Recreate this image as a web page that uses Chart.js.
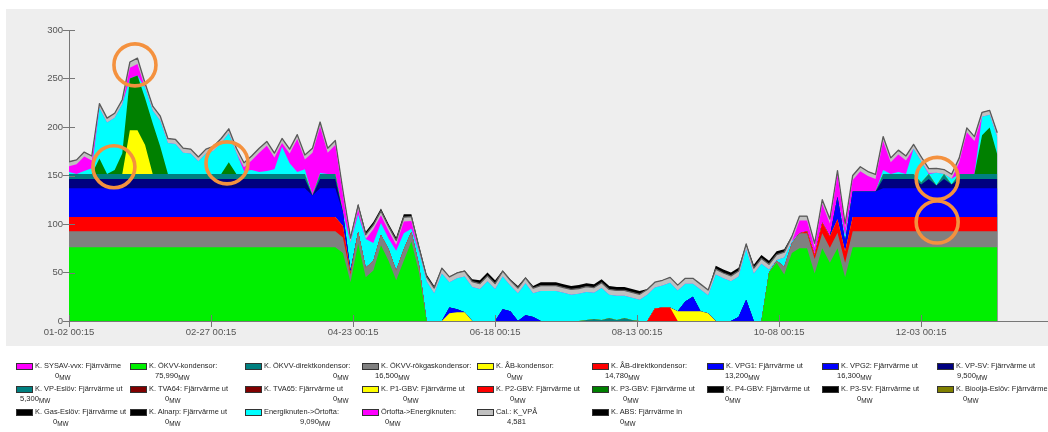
<!DOCTYPE html>
<html>
<head>
<meta charset="utf-8">
<script src="https://cdn.jsdelivr.net/npm/chart.js@4.4.1/dist/chart.umd.min.js"></script>
<style>
  html, body { margin: 0; padding: 0; background: #ffffff; width: 1048px; height: 432px; overflow: hidden;
    font-family: "Liberation Sans", Arial, sans-serif; }
  #panel { position: absolute; left: 6px; top: 9px; width: 1042px; height: 337px; background: #eeeeee; }
  #wrap { position: absolute; left: 0; top: 0; width: 1048px; height: 340px; }
  #legend { position: absolute; left: 0; top: 0; width: 1048px; height: 432px; }
  .sw { position: absolute; width: 15px; height: 5px; border: 1px solid #333; }
  .nm { position: absolute; font-size: 7.4px; line-height: 8px; color: #1e1e1e; white-space: nowrap; }
  .vl { position: absolute; font-size: 7.6px; line-height: 8px; color: #1e1e1e; white-space: nowrap; }
  .vl sub { font-size: 6.4px; vertical-align: -2px; }
</style>
</head>
<body>
<div id="panel"></div>
<div id="wrap"><canvas id="c" width="1048" height="340"></canvas></div>
<div id="legend"></div>
<script>
// Sample days (00:15 each day, counted from 01-02), one sample every third day
const days = [
  0, 3, 6, 9, 12, 15, 18, 21, 24, 27, 30, 33,
  36, 39, 42, 45, 48, 51, 54, 57, 60, 63, 66, 69,
  72, 75, 78, 81, 84, 87, 90, 93, 96, 99, 102, 105,
  108, 111, 114, 117, 120, 123, 126, 129, 132, 135, 138, 141,
  144, 147, 150, 153, 156, 159, 162, 165, 168, 171, 174, 177,
  180, 183, 186, 189, 192, 195, 198, 201, 204, 207, 210, 213,
  216, 219, 222, 225, 228, 231, 234, 237, 240, 243, 246, 249,
  252, 255, 258, 261, 264, 267, 270, 273, 276, 279, 282, 285,
  288, 291, 294, 297, 300, 303, 306, 309, 312, 315, 318, 321,
  324, 327, 330, 333, 336, 339, 342, 345, 348, 351, 354, 357,
  360, 363, 366
];

// X axis tick positions (days) and their labels
const xTickDays = [0, 56, 112, 168, 224, 280, 336];
const xTickLabels = ['01-02 00:15', '02-27 00:15', '04-23 00:15', '06-18 00:15', '08-13 00:15', '10-08 00:15', '12-03 00:15'];

// Heat production per unit, MW (stacked from the bottom up)
const okvvKondensor = [
  75.99, 75.99, 75.99, 75.99, 75.99, 75.99, 75.99, 75.99, 75.99, 75.99, 75.99, 75.99,
  75.99, 75.99, 75.99, 75.99, 75.99, 75.99, 75.99, 75.99, 75.99, 75.99, 75.99, 75.99,
  75.99, 75.99, 75.99, 75.99, 75.99, 75.99, 75.99, 75.99, 75.99, 75.99, 75.99, 75.99,
  70, 40, 80, 45, 52, 78, 62, 42, 62, 82, 50, 0,
  0, 0, 0, 0, 0, 0, 0, 0, 0, 0, 0, 0,
  0, 0, 0, 0, 0, 0, 0, 0, 0, 0, 0, 0,
  0, 0, 0, 0, 0, 0, 0, 0, 0, 0, 0, 0,
  0, 0, 0, 0, 0, 0, 0, 0, 50, 60, 48, 70,
  75, 75, 49, 75, 60, 75, 45, 75.99, 75.99, 75.99, 75.99, 75.99,
  75.99, 75.99, 75.99, 75.99, 75.99, 75.99, 75.99, 75.99, 75.99, 75.99, 75.99, 75.99,
  75.99, 75.99, 75.99
];
const okvvRokgas = [
  16.5, 16.5, 16.5, 16.5, 16.5, 16.5, 16.5, 16.5, 16.5, 16.5, 16.5, 16.5,
  16.5, 16.5, 16.5, 16.5, 16.5, 16.5, 16.5, 16.5, 16.5, 16.5, 16.5, 16.5,
  16.5, 16.5, 16.5, 16.5, 16.5, 16.5, 16.5, 16.5, 16.5, 16.5, 16.5, 16.5,
  16, 8, 12, 10, 10, 11, 12, 10, 12, 10, 8, 0,
  0, 0, 0, 0, 0, 0, 0, 0, 0, 0, 0, 0,
  0, 0, 0, 0, 0, 0, 0, 0, 0, 0, 0, 0,
  0, 0, 0, 0, 0, 0, 0, 0, 0, 0, 0, 0,
  0, 0, 0, 0, 0, 0, 0, 0, 0, 2, 8, 10,
  15.5, 15.5, 15, 15.5, 15.5, 16, 15, 16.5, 16.5, 16.5, 16.5, 16.5,
  16.5, 16.5, 16.5, 16.5, 16.5, 16.5, 16.5, 16.5, 16.5, 16.5, 16.5, 16.5,
  16.5, 16.5, 16.5
];
const abDirekt = [
  14.78, 14.78, 14.78, 14.78, 14.78, 14.78, 14.78, 14.78, 14.78, 14.78, 14.78, 14.78,
  14.78, 14.78, 14.78, 14.78, 14.78, 14.78, 14.78, 14.78, 14.78, 14.78, 14.78, 14.78,
  14.78, 14.78, 14.78, 14.78, 14.78, 14.78, 14.78, 14.78, 14.78, 14.78, 14.78, 14.78,
  12, 2, 0, 0, 0, 0, 0, 0, 0, 0, 0, 0,
  0, 0, 0, 0, 0, 0, 0, 0, 0, 0, 0, 0,
  0, 0, 0, 0, 0, 0, 0, 0, 0, 0, 0, 0,
  0, 0, 0, 0, 0, 13, 14, 14, 0, 0, 0, 0,
  0, 0, 0, 0, 0, 0, 0, 0, 0, 0, 0, 0,
  0, 2, 4, 11, 12, 14, 12, 14.78, 14.78, 14.78, 14.78, 14.78,
  14.78, 14.78, 14.78, 14.78, 14.78, 14.78, 14.78, 14.78, 14.78, 14.78, 14.78, 14.78,
  14.78, 14.78, 14.78
];
const abKondensor = [
  0, 0, 0, 0, 0, 0, 0, 0, 0, 0, 0, 0,
  0, 0, 0, 0, 0, 0, 0, 0, 0, 0, 0, 0,
  0, 0, 0, 0, 0, 0, 0, 0, 0, 0, 0, 0,
  0, 0, 0, 0, 0, 0, 0, 0, 0, 0, 0, 0,
  0, 0, 8, 9, 9, 0, 0, 0, 0, 0, 0, 0,
  0, 0, 0, 0, 0, 0, 0, 0, 0, 0, 0, 0,
  0, 0, 0, 0, 0, 0, 0, 0, 10, 10, 10, 10,
  8, 0, 0, 0, 0, 0, 0, 0, 0, 0, 0, 0,
  0, 0, 0, 0, 0, 0, 0, 0, 0, 0, 0, 0,
  0, 0, 0, 0, 0, 0, 0, 0, 0, 0, 0, 0,
  0, 0, 0
];
const vpg1 = [
  13.2, 13.2, 13.2, 13.2, 13.2, 13.2, 13.2, 13.2, 13.2, 13.2, 13.2, 13.2,
  13.2, 13.2, 13.2, 13.2, 13.2, 13.2, 13.2, 13.2, 13.2, 13.2, 13.2, 13.2,
  13.2, 13.2, 13.2, 13.2, 13.2, 13.2, 13.2, 13.2, 13.2, 13.2, 13.2, 13.2,
  10, 2, 0, 0, 0, 0, 0, 0, 0, 0, 0, 0,
  0, 0, 6, 3, 0, 0, 0, 0, 0, 12, 10, 0,
  6, 4, 0, 0, 0, 0, 0, 0, 0, 0, 0, 0,
  0, 0, 0, 0, 0, 0, 0, 0, 0, 10, 15, 0,
  0, 0, 0, 0, 4, 22, 0, 0, 0, 0, 0, 0,
  0, 0, 0, 0, 0, 13, 10, 13.2, 13.2, 13.2, 13.2, 13.2,
  13.2, 13.2, 13.2, 13.2, 13.2, 13.2, 13.2, 13.2, 13.2, 13.2, 13.2, 13.2,
  13.2, 13.2, 13.2
];
const vpg2 = [
  16.3, 16.3, 16.3, 16.3, 16.3, 16.3, 16.3, 16.3, 16.3, 16.3, 16.3, 16.3,
  16.3, 16.3, 16.3, 16.3, 16.3, 16.3, 16.3, 16.3, 16.3, 16.3, 16.3, 16.3,
  16.3, 16.3, 16.3, 16.3, 16.3, 16.3, 16.3, 16.3, 9, 16.3, 16.3, 16.3,
  4, 0, 0, 0, 0, 0, 0, 0, 0, 0, 0, 0,
  0, 0, 0, 0, 0, 0, 0, 0, 0, 0, 0, 0,
  0, 0, 0, 0, 0, 0, 0, 0, 0, 0, 0, 0,
  0, 0, 0, 0, 0, 0, 0, 0, 0, 0, 0, 0,
  0, 0, 0, 0, 0, 0, 0, 0, 0, 0, 0, 0,
  0, 0, 0, 0, 0, 10, 0, 13, 13, 13, 13, 16.3,
  16.3, 16.3, 16.3, 16.3, 16.3, 16.3, 16.3, 16.3, 16.3, 16.3, 16.3, 16.3,
  16.3, 16.3, 16.3
];
const vpSv = [
  9.5, 9.5, 9.5, 9.5, 9.5, 9.5, 9.5, 9.5, 9.5, 9.5, 9.5, 9.5,
  9.5, 9.5, 9.5, 9.5, 9.5, 9.5, 9.5, 9.5, 9.5, 9.5, 9.5, 9.5,
  9.5, 9.5, 9.5, 9.5, 9.5, 9.5, 9.5, 9.5, 0, 9.5, 9.5, 9.5,
  0, 0, 0, 0, 0, 0, 0, 0, 0, 0, 0, 0,
  0, 0, 0, 0, 0, 0, 0, 0, 0, 0, 0, 0,
  0, 0, 0, 0, 0, 0, 0, 0, 0, 0, 0, 0,
  0, 0, 0, 0, 0, 0, 0, 0, 0, 0, 0, 0,
  0, 0, 0, 0, 0, 0, 0, 0, 0, 0, 0, 0,
  0, 0, 0, 0, 0, 0, 0, 0, 0, 0, 0, 9.5,
  9.5, 9.5, 9.5, 9.5, 4, 9.5, 3, 9.5, 4, 9.5, 9.5, 9.5,
  9.5, 9.5, 9.5
];
const vpEslov = [
  5.3, 5.3, 5.3, 5.3, 5.3, 5.3, 5.3, 5.3, 5.3, 5.3, 5.3, 5.3,
  5.3, 5.3, 5.3, 5.3, 5.3, 5.3, 5.3, 5.3, 5.3, 5.3, 5.3, 5.3,
  5.3, 5.3, 5.3, 5.3, 5.3, 5.3, 5.3, 5.3, 0, 5.3, 5.3, 5.3,
  0, 0, 0, 0, 0, 0, 0, 0, 0, 0, 0, 0,
  0, 0, 0, 0, 0, 0, 0, 0, 0, 0, 0, 0,
  0, 0, 0, 0, 0, 0, 0, 0, 1, 2, 1, 3,
  1, 3, 1, 0, 0, 0, 0, 0, 0, 0, 0, 0,
  0, 0, 0, 0, 0, 0, 0, 0, 0, 0, 0, 0,
  0, 0, 0, 0, 0, 0, 0, 0, 0, 0, 0, 5.3,
  5.3, 5.3, 5.3, 5.3, 2, 5.3, 0, 5.3, 0, 5.3, 5.3, 5.3,
  5.3, 5.3, 5.3
];
const p1Gbv = [
  0, 0, 0, 0, 0, 0, 0, 0, 45, 45, 30, 0,
  0, 0, 0, 0, 0, 0, 0, 0, 0, 0, 0, 0,
  0, 0, 0, 0, 0, 0, 0, 0, 0, 0, 0, 0,
  0, 0, 0, 0, 0, 0, 0, 0, 0, 0, 0, 0,
  0, 0, 0, 0, 0, 0, 0, 0, 0, 0, 0, 0,
  0, 0, 0, 0, 0, 0, 0, 0, 0, 0, 0, 0,
  0, 0, 0, 0, 0, 0, 0, 0, 0, 0, 0, 0,
  0, 0, 0, 0, 0, 0, 0, 0, 0, 0, 0, 0,
  0, 0, 0, 0, 0, 0, 0, 0, 0, 0, 0, 0,
  0, 0, 0, 0, 0, 0, 0, 0, 0, 0, 0, 0,
  0, 0, 0
];
const p3Gbv = [
  0, 0, 0, 0, 16, 0, 4, 21, 53.4, 56.4, 48, 52.4,
  28, 0, 0, 0, 0, 0, 0, 0, 0, 12, 0, 0,
  0, 0, 0, 0, 0, 0, 0, 0, 0, 0, 0, 0,
  0, 0, 0, 0, 0, 0, 0, 0, 0, 0, 0, 0,
  0, 0, 0, 0, 0, 0, 0, 0, 0, 0, 0, 0,
  0, 0, 0, 0, 0, 0, 0, 0, 0, 0, 0, 0,
  0, 0, 0, 0, 0, 0, 0, 0, 0, 0, 0, 0,
  0, 0, 0, 0, 0, 0, 0, 0, 0, 0, 0, 0,
  0, 0, 0, 0, 0, 0, 0, 0, 0, 0, 0, 0,
  0, 0, 0, 0, 0, 0, 0, 0, 0, 0, 0, 0,
  40, 48, 20
];
const energiknuten = [
  2, 0, 3, 6, 52, 53, 54, 51, 0, 0, 11, 13,
  27, 32, 31, 22, 21, 13, 21, 24, 32, 30, 22, 3,
  4, 2, 3, 5, 28, 11, 2, 5, 0, 1, 0, 0,
  0, 29, 18, 29.5, 18.5, 12, 11, 20.5, 16.5, 3, 13, 41,
  28.5, 49, 26, 32, 37, 35, 33, 41, 33, 34, 26.5, 28.5,
  33, 24.5, 31, 31, 31, 29, 27, 28, 29, 27, 33, 24,
  25, 23, 23, 22, 27, 21.5, 22.5, 25.5, 21.5, 18.5, 13.5, 22.5,
  18.5, 48, 44, 41, 42, 52, 49, 59, 3, 1, 9.5, 2,
  0, 0, 0, 0, 0, 0, 6, 0, 0, 0, 0, 4,
  0, 2, 0, 26, 22, 0, 13, 0, 6, 0, 0, 0,
  19, 13, 18
];
const sysav = [
  6, 10, 15, 8, 0, 0, 0, 0, 11, 12, 0, 0,
  0, 0, 0, 0, 0, 0, 0, 0, 0, 0, 0, 4,
  10, 20, 26, 12, 4, 10, 34, 10, 44, 48, 22, 30,
  18, 0, 5, 0, 14, 8, 8, 6, 12, 8, 0, 0,
  0, 0, 0, 0, 0, 0, 0, 0, 0, 0, 0, 0,
  0, 0, 0, 0, 0, 0, 0, 0, 0, 0, 0, 0,
  0, 0, 0, 0, 0, 0, 0, 0, 0, 0, 0, 0,
  0, 0, 0, 0, 0, 0, 0, 0, 0, 0, 0, 0,
  13, 11, 7.5, 19, 13, 22.5, 7.5, 12, 21, 16, 13, 30,
  12, 18, 14, 0, 0, 1, 0, 0, 0, 12, 43, 34,
  0, 0, 0
];
const calVpa = [
  4.58, 4.58, 4.58, 4.58, 4.58, 4.58, 4.58, 4.58, 6, 6, 4.58, 4.58,
  4.58, 4.58, 4.58, 4.58, 4.58, 4.58, 4.58, 4.58, 4.58, 4.58, 4.58, 4.58,
  4.58, 4.58, 4.58, 4.58, 4.58, 4.58, 4.58, 4.58, 4.58, 4.58, 4.58, 4.58,
  4.5, 4.5, 4.5, 4.5, 4.5, 4.5, 4.5, 4.5, 4.5, 4.5, 4.5, 4.5,
  5.5, 5.5, 5.5, 5.5, 5.5, 5.5, 5.5, 5.5, 5.5, 5.5, 5.5, 5.5,
  5.5, 5.5, 5.5, 5.5, 5.5, 5.5, 5.5, 5.5, 5.5, 5.5, 5.5, 5.5,
  5.5, 5.5, 5.5, 5.5, 5.5, 5.5, 5.5, 5.5, 5.5, 5.5, 5.5, 5.5,
  5.5, 5.5, 5.5, 5.5, 5.5, 5.5, 5.5, 5.5, 5.5, 5.5, 5.5, 5,
  4.58, 4.58, 4.58, 4.58, 4.58, 4.58, 4.58, 4.58, 4.58, 4.58, 4.58, 4.58,
  4.58, 4.58, 4.58, 4.58, 4.58, 4.58, 4.58, 4.58, 4.58, 4.58, 4.58, 4.58,
  4.58, 4.58, 4.58
];
const absIn = [
  0, 0, 0, 0, 0, 0, 0, 0, 0, 0, 0, 0,
  0, 0, 0, 0, 0, 0, 0, 0, 0, 0, 0, 0,
  0, 0, 0, 0, 0, 0, 0, 0, 0, 0, 0, 0,
  0, 1.5, 1.5, 3, 3, 2.5, 2.5, 3, 3, 2.5, 2.5, 2.5,
  2, 0.5, 0.5, 0.5, 0.5, 2.5, 3.5, 3.5, 3.5, 0.5, 1, 2,
  0.5, 2, 3.5, 3.5, 3.5, 3.5, 3.5, 3.5, 3.5, 3.5, 3.5, 3.5,
  3.5, 3.5, 3.5, 3.5, 0.5, 0, 0, 0, 0, 0, 0, 0,
  0, 3.5, 3.5, 3.5, 3.5, 0.5, 3.5, 3.5, 3.5, 3.5, 3, 1,
  0, 0, 0, 0, 0, 0, 0, 0, 0, 0, 0, 0,
  0, 0, 0, 0, 0, 0, 0, 0, 0, 0, 0, 0,
  0, 0, 0
];

// Legend entries: name, swatch colour, current value and unit
const legendNames = [
  'K. SYSAV-vvx: Fjärrvärme', 'K. ÖKVV-kondensor:', 'K. ÖKVV-direktkondensor:', 'K. ÖKVV-rökgaskondensor:',
  'K. ÅB-kondensor:', 'K. ÅB-direktkondensor:', 'K. VPG1: Fjärrvärme ut', 'K. VPG2: Fjärrvärme ut',
  'K. VP-SV: Fjärrvärme ut', 'K. VP-Eslöv: Fjärrvärme ut', 'K. TVA64: Fjärrvärme ut', 'K. TVA65: Fjärrvärme ut',
  'K. P1-GBV: Fjärrvärme ut', 'K. P2-GBV: Fjärrvärme ut', 'K. P3-GBV: Fjärrvärme ut', 'K. P4-GBV: Fjärrvärme ut',
  'K. P3-SV: Fjärrvärme ut', 'K. Bioolja-Eslöv: Fjärrvärme', 'K. Gas-Eslöv: Fjärrvärme ut', 'K. Alnarp: Fjärrvärme ut',
  'Energiknuten->Örtofta:', 'Örtofta->Energiknuten:', 'Cal.: K_VPÅ', 'K. ABS: Fjärrvärme in'
];
const legendValues = [
  '0', '75,990', '0', '16,500', '0', '14,780', '13,200', '16,300', '9,500',
  '5,300', '0', '0', '0', '0', '0', '0', '0', '0',
  '0', '0', '9,090', '0', '4,581', '0'
];
const legendUnits = [
  'MW', 'MW', 'MW', 'MW', 'MW', 'MW', 'MW', 'MW', 'MW',
  'MW', 'MW', 'MW', 'MW', 'MW', 'MW', 'MW', 'MW', 'MW',
  'MW', 'MW', 'MW', 'MW', '', 'MW'
];
const legendColors = [
  '#ff00ff', '#00f000', '#008080', '#808080', '#ffff00', '#ff0000', '#0000ff', '#0000ff', '#000080',
  '#008080', '#800000', '#800000', '#ffff00', '#ff0000', '#008000', '#000000', '#000000', '#808000',
  '#000000', '#000000', '#00ffff', '#ff00ff', '#c0c0c0', '#000000'
];

// Legend layout (pixels)
const legendColX = [16, 130, 245, 362, 477, 592, 707, 822, 937];
const legendRowY = [363, 386, 409];
const legendValueX = [55, 155, 333, 375, 507, 605, 725, 837, 957,
                      20, 165, 333, 403, 510, 623, 725, 857, 963,
                      53, 165, 300, 385, 507, 620];

// Ringed spots on the chart, as (day, MW) anchors
const ringDays = [26, 17.7, 62.3, 342.3, 342.3];
const ringValues = [264, 159, 163, 147, 102];

// Build the legend
const legendEl = document.getElementById('legend');
legendNames.forEach((name, i) => {
  const col = i % 9, row = Math.floor(i / 9);
  const x = legendColX[col], y = legendRowY[row];
  const sw = document.createElement('div');
  sw.className = 'sw';
  sw.style.left = x + 'px'; sw.style.top = y + 'px';
  sw.style.background = legendColors[i];
  legendEl.appendChild(sw);
  const nm = document.createElement('div');
  nm.className = 'nm';
  nm.style.left = (x + 19) + 'px'; nm.style.top = (y - 1) + 'px';
  nm.textContent = name;
  legendEl.appendChild(nm);
  const vl = document.createElement('div');
  vl.className = 'vl';
  vl.style.left = legendValueX[i] + 'px'; vl.style.top = (y + 9) + 'px';
  vl.textContent = legendValues[i];
  if (legendUnits[i]) {
    const sub = document.createElement('sub');
    sub.textContent = legendUnits[i];
    vl.appendChild(sub);
  }
  legendEl.appendChild(vl);
});

// Stack order, bottom to top
const layers = [
  { label: 'K. ÖKVV-kondensor', values: okvvKondensor, color: '#00f000' },
  { label: 'K. ÖKVV-rökgaskondensor', values: okvvRokgas, color: '#808080' },
  { label: 'K. ÅB-direktkondensor', values: abDirekt, color: '#ff0000' },
  { label: 'K. ÅB-kondensor', values: abKondensor, color: '#ffff00' },
  { label: 'K. VPG1: Fjärrvärme ut', values: vpg1, color: '#0000ff' },
  { label: 'K. VPG2: Fjärrvärme ut', values: vpg2, color: '#0000ff' },
  { label: 'K. VP-SV: Fjärrvärme ut', values: vpSv, color: '#000080' },
  { label: 'K. VP-Eslöv: Fjärrvärme ut', values: vpEslov, color: '#008080' },
  { label: 'K. P1-GBV: Fjärrvärme ut', values: p1Gbv, color: '#ffff00' },
  { label: 'K. P3-GBV: Fjärrvärme ut', values: p3Gbv, color: '#008000' },
  { label: 'Energiknuten->Örtofta', values: energiknuten, color: '#00ffff' },
  { label: 'K. SYSAV-vvx: Fjärrvärme', values: sysav, color: '#ff00ff' },
  { label: 'Cal.: K_VPÅ', values: calVpa, color: '#c0c0c0', edge: '#5a5a5a' },
  { label: 'K. ABS: Fjärrvärme in', values: absIn, color: '#000000' }
];

// Every band fills from its stacked top down to zero; Chart.js paints the
// datasets from the last to the first, so each lower band covers the rest
// and neighbouring bands meet without seams.
const datasets = layers.map(l => ({
  label: l.label,
  data: days.map((d, i) => ({ x: d, y: l.values[i] })),
  fill: 'origin',
  backgroundColor: l.color,
  borderColor: l.edge || 'transparent',
  borderWidth: l.edge ? 1.3 : 0,
  pointRadius: 0,
  tension: 0
}));

// Short tick stubs reaching into the plot from both axes
const axisStubs = {
  id: 'axisStubs',
  afterDatasetsDraw(chart) {
    const { ctx, chartArea: a, scales: { x, y } } = chart;
    ctx.save();
    ctx.strokeStyle = '#777777';
    ctx.lineWidth = 1;
    y.ticks.forEach(t => {
      const py = Math.round(y.getPixelForValue(t.value)) + 0.5;
      ctx.beginPath(); ctx.moveTo(a.left, py); ctx.lineTo(a.left + 6, py); ctx.stroke();
    });
    x.ticks.forEach(t => {
      const px = Math.round(x.getPixelForValue(t.value)) + 0.5;
      ctx.beginPath(); ctx.moveTo(px, a.bottom); ctx.lineTo(px, a.bottom - 6); ctx.stroke();
    });
    ctx.restore();
  }
};

// Orange rings marking spots of interest
const rings = {
  id: 'rings',
  afterDraw(chart) {
    const { ctx, scales: { x, y } } = chart;
    ctx.save();
    ctx.strokeStyle = '#f4913e';
    ctx.lineWidth = 3.6;
    ringDays.forEach((d, i) => {
      ctx.beginPath();
      ctx.arc(x.getPixelForValue(d), y.getPixelForValue(ringValues[i]), 21, 0, Math.PI * 2);
      ctx.stroke();
    });
    ctx.restore();
  }
};

new Chart(document.getElementById('c'), {
  type: 'line',
  data: { datasets },
  options: {
    responsive: false,
    animation: false,
    devicePixelRatio: 1,
    layout: { autoPadding: false, padding: { top: 30, right: 0, bottom: 0, left: 0 } },
    plugins: { legend: { display: false }, tooltip: { enabled: false } },
    elements: { line: { borderJoinStyle: 'round' } },
    scales: {
      x: {
        type: 'linear', min: 0, max: 386,
        afterBuildTicks: s => { s.ticks = xTickDays.map(v => ({ value: v })); },
        afterFit: s => { s.height = 19; },
        ticks: {
          autoSkip: false, maxRotation: 0, padding: 0, color: '#555555',
          font: { family: 'Liberation Sans', size: 9.5 },
          callback: v => { const k = xTickDays.indexOf(v); return k >= 0 ? xTickLabels[k] : ''; }
        },
        grid: { drawOnChartArea: false, drawTicks: true, tickLength: 6, color: '#777777' },
        border: { color: '#777777', width: 1 }
      },
      y: {
        stacked: true, min: 0, max: 300,
        afterFit: s => { s.width = 69; },
        ticks: { stepSize: 50, padding: 0, color: '#555555', font: { family: 'Liberation Sans', size: 9.5 } },
        grid: { drawOnChartArea: false, drawTicks: true, tickLength: 6, color: '#777777' },
        border: { color: '#777777', width: 1 }
      }
    }
  },
  plugins: [axisStubs, rings]
});
</script>
</body>
</html>
